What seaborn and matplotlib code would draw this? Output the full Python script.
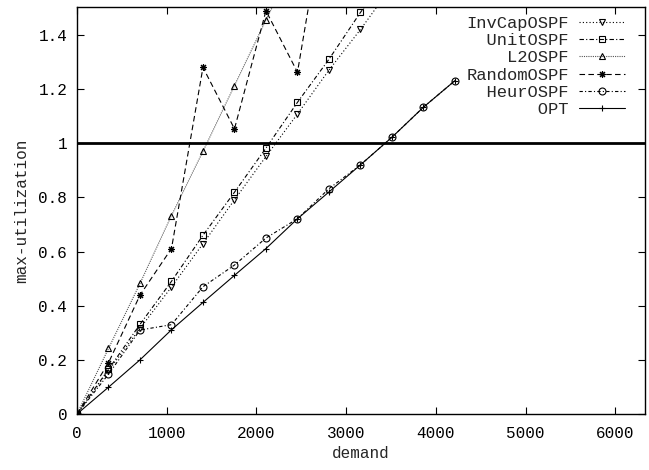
import numpy as np
import pandas as pd
import matplotlib
matplotlib.use("Agg")
import matplotlib.pyplot as plt
import seaborn as sns

# ---- data ----
demand = [0, 351, 702, 1053, 1404, 1755, 2106, 2457, 2808, 3159, 3510, 3861, 4212]

inv_cap = [0, 0.16, 0.316, 0.469, 0.629, 0.791, 0.951, 1.108, 1.27, 1.42, 1.58]
unit    = [0, 0.165, 0.331, 0.49, 0.66, 0.819, 0.982, 1.151, 1.31, 1.483, 1.64]
l2      = [0, 0.242, 0.482, 0.733, 0.97, 1.213, 1.455, 1.69]
random_ = [0, 0.189, 0.439, 0.611, 1.28, 1.053, 1.489, 1.262, 1.95]
heur    = [0, 0.147, 0.31, 0.33, 0.47, 0.55, 0.65, 0.721, 0.832, 0.92, 1.022, 1.133, 1.231]
opt     = [0, 0.099, 0.2, 0.311, 0.412, 0.512, 0.611, 0.721, 0.82, 0.92, 1.022, 1.133, 1.231]

methods = ["InvCapOSPF", "UnitOSPF", "L2OSPF", "RandomOSPF", "HeurOSPF", "OPT"]
series = [inv_cap, unit, l2, random_, heur, opt]

xticks = [0, 1000, 2000, 3000, 4000, 5000, 6000]
yticks = [0, 0.2, 0.4, 0.6, 0.8, 1.0, 1.2, 1.4]
ytick_labels = ["0", "0.2", "0.4", "0.6", "0.8", "1", "1.2", "1.4"]

rows = []
for m, vals in zip(methods, series):
    for x, y in zip(demand, vals):
        rows.append({"demand": x, "util": y, "method": m})
df = pd.DataFrame(rows)

# ---- style ----
sns.set_theme(style="ticks")
FONT = ["Liberation Mono", "DejaVu Sans Mono"]
plt.rcParams["font.family"] = FONT

fig = plt.figure(figsize=(6.49, 4.70), dpi=100)
ax = fig.add_axes([77 / 649, 1 - 414 / 470, (645 - 77) / 649, (414 - 7) / 470])

markers = {
    "InvCapOSPF": "v",
    "UnitOSPF": "s",
    "L2OSPF": "^",
    "RandomOSPF": (8, 2, 0),
    "HeurOSPF": "o",
    "OPT": "+",
}
linestyles = {
    "InvCapOSPF": (0, (1, 2)),
    "UnitOSPF": (0, (4, 2, 1, 2)),
    "L2OSPF": (0, (1, 1)),
    "RandomOSPF": (0, (5, 3)),
    "HeurOSPF": (0, (3, 2, 1, 2)),
    "OPT": "-",
}
colors = {m: "black" for m in methods}
colors["L2OSPF"] = "#555555"

lines = []
for m in methods:
    sub = df[df["method"] == m]
    n_before = len(ax.get_lines())
    sns.lineplot(
        data=sub, x="demand", y="util", ax=ax, errorbar=None, sort=False,
        color=colors[m], linestyle=linestyles[m], linewidth=0.8,
        marker=markers[m], markersize=5,
        markeredgecolor="black", markerfacecolor="none", markeredgewidth=0.8,
    )
    ln = ax.get_lines()[n_before]
    ln.set_label(m)
    lines.append(ln)

ax.axhline(1.0, color="black", linewidth=2.0, zorder=5)

ax.set_xlim(0, 6330)
ax.set_ylim(0, 1.503)
ax.set_xticks(xticks)
ax.set_xticklabels([str(t) for t in xticks])
ax.set_yticks(yticks)
ax.set_yticklabels(ytick_labels)

ax.tick_params(direction="in", length=5, width=0.8, top=True, right=True,
               labelsize=11.5, pad=7, colors="black")
ax.tick_params(axis="x", pad=9)
for t in ax.get_xticklabels() + ax.get_yticklabels():
    t.set_fontfamily(FONT)
for sp in ax.spines.values():
    sp.set_visible(True)
    sp.set_linewidth(1.0)
    sp.set_color("black")

ax.set_xlabel("demand", fontsize=11.5, family=FONT, labelpad=3)
ax.set_ylabel("max-utilization", fontsize=11.5, family=FONT, labelpad=7)

# right-aligned labels (monospace font: pad with leading spaces)
width = max(len(m) for m in methods)
leg_labels = [m.rjust(width) for m in methods]
leg = ax.legend(handles=lines, labels=leg_labels, loc="upper right",
                bbox_to_anchor=(0.965, 0.977), frameon=False,
                markerfirst=False, handlelength=2.7, handletextpad=0.6,
                labelspacing=0.12, borderaxespad=0.0, borderpad=0.0,
                prop={"family": FONT, "size": 12.3})

fig.savefig("out.png", dpi=100)
